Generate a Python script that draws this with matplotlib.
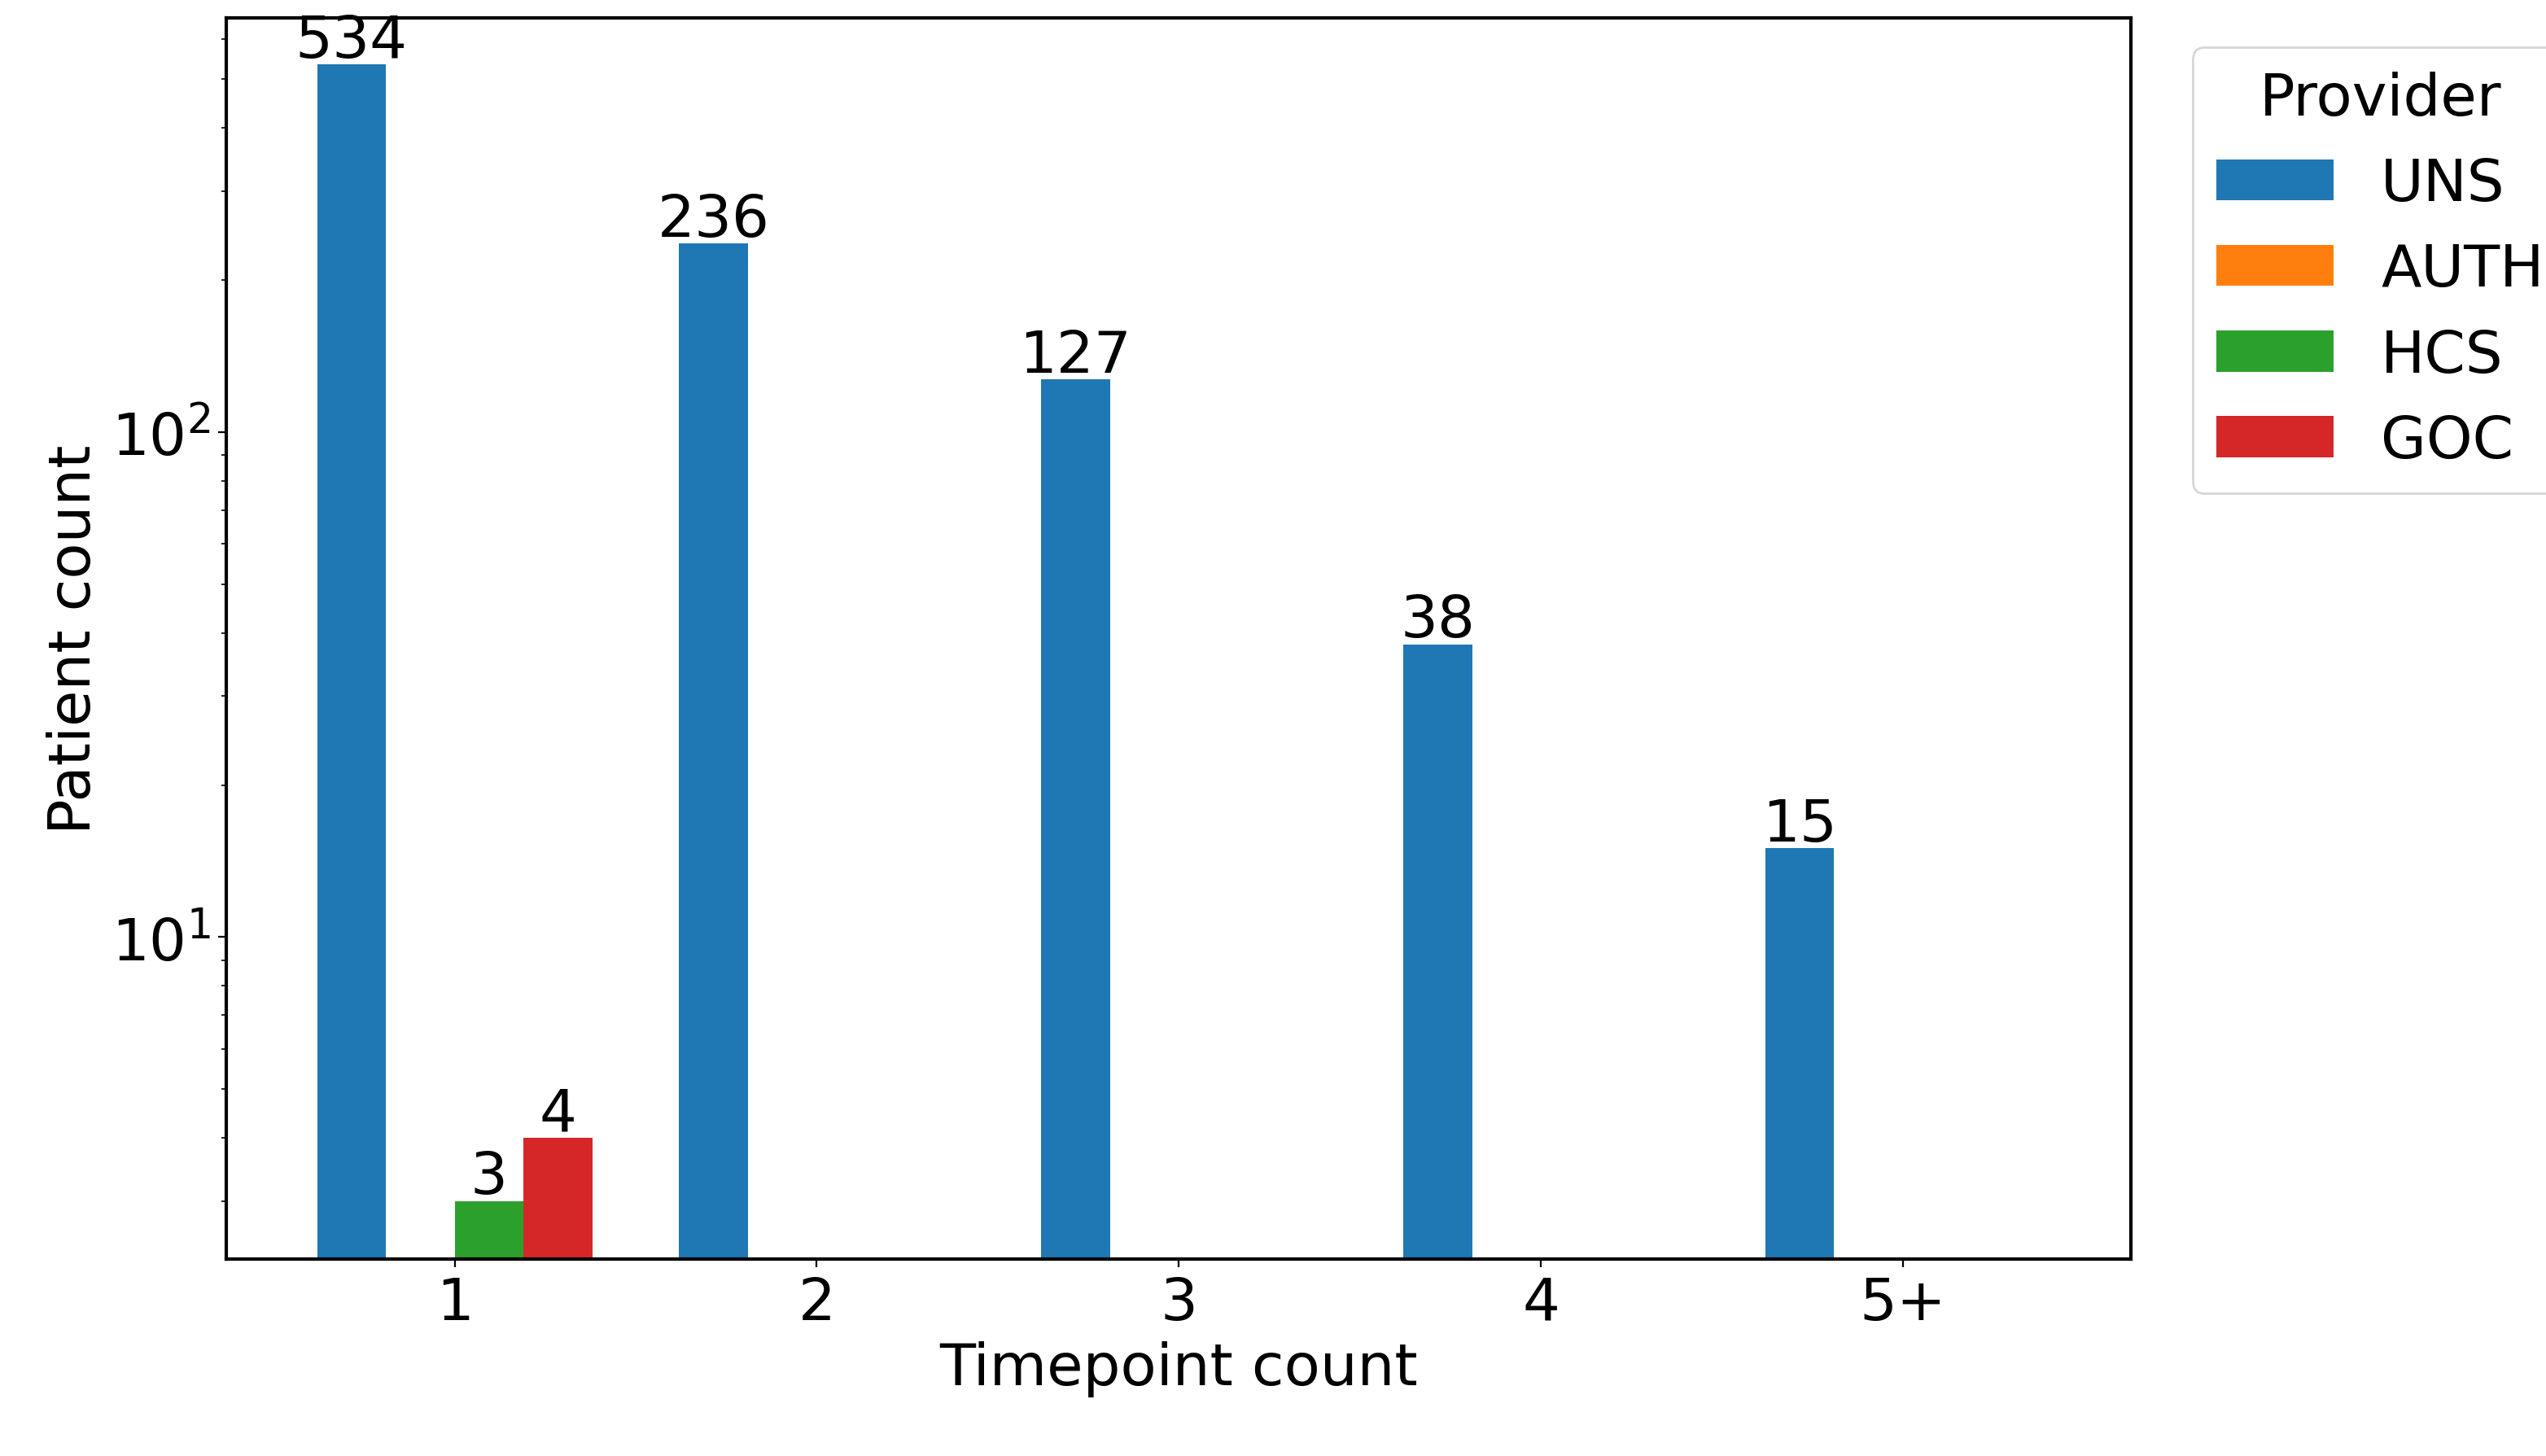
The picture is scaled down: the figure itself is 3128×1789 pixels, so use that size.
import numpy as np
import matplotlib.pyplot as plt

categories = ["1", "2", "3", "4", "5+"]
providers = ["UNS", "AUTH", "HCS", "GOC"]
uns = [534, 236, 127, 38, 15]
auth = [0, 0, 0, 0, 0]
hcs = [3, 0, 0, 0, 0]
goc = [4, 0, 0, 0, 0]
colors = ["#1f77b4", "#ff7f0e", "#2ca02c", "#d62728"]

plt.rcParams['font.size'] = 26
fig = plt.figure(figsize=(15.64, 8.95), dpi=200)
ax = fig.add_axes([0.089, 0.135, 0.748, 0.852])

x = np.arange(len(categories))
w = 0.19
for i, (name, vals) in enumerate(zip(providers, [uns, auth, hcs, goc])):
    bars = ax.bar(x + (i - 1.5) * w, vals, w, color=colors[i], label=name)
    labels = [str(v) if v > 0 else "" for v in vals]
    ax.bar_label(bars, labels=labels, fontsize=26, padding=-2)

ax.set_yscale("log")
ax.set_ylim(2.3, 660)
ax.set_xlim(-0.63, 4.63)
ax.set_xticks(x)
ax.set_xticklabels(categories)
ax.set_xlabel("Timepoint count")
ax.set_ylabel("Patient count")
for s in ax.spines.values():
    s.set_linewidth(1.5)

ax.legend(title="Provider", loc="upper left", bbox_to_anchor=(1.017, 1.0),
          fontsize=26, title_fontsize=26)

fig.savefig("out.png")
